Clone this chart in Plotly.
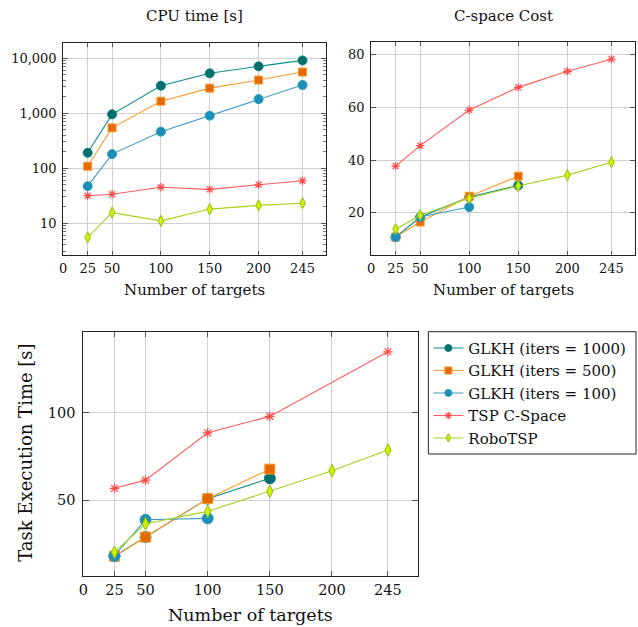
import plotly.graph_objects as go

# ---- data ----
targets = [25, 50, 100, 150, 200, 245]
targets_short = [25, 50, 100, 150]
targets_glkh100 = [25, 50, 100]
targets_tsp_exec = [25, 50, 100, 150, 245]
x_tick_vals = [0, 25, 50, 100, 150, 200, 245]

series_names = ["GLKH (iters = 1000)", "GLKH (iters = 500)", "GLKH (iters = 100)",
                "TSP C-Space", "RoboTSP"]

# CPU time [s]
cpu_glkh1000 = [190, 950, 3150, 5300, 7100, 9100]
cpu_glkh500 = [108, 540, 1650, 2850, 4000, 5600]
cpu_glkh100 = [47, 180, 460, 900, 1800, 3250]
cpu_tsp = [31.5, 33.5, 45, 41, 50, 59]
cpu_robo = [5.5, 15.5, 11, 18, 21, 23]

# C-space cost
cs_glkh1000 = [10.8, 18.3, 26.0, 30.4]
cs_glkh500 = [10.8, 16.5, 26.3, 33.9]
cs_glkh100 = [10.8, 18.4, 22.2]
cs_tsp = [37.7, 45.5, 59.0, 67.6, 73.7, 78.3]
cs_robo = [13.8, 19.1, 25.5, 30.2, 34.3, 39.2]

# Task execution time [s]
te_glkh1000 = [17.8, 28.8, 50.8, 62.4]
te_glkh500 = [17.8, 28.8, 50.8, 67.7]
te_glkh100 = [18.1, 38.7, 39.5]
te_tsp = [56.7, 61.4, 88.5, 97.9, 134.9]
te_robo = [20.1, 36.4, 43.5, 55.0, 66.8, 78.6]

cpu_tick_vals = [10, 100, 1000, 10000]
cpu_tick_text = ["10", "100", "1,000", "10,000"]
cs_tick_vals = [20, 40, 60, 80]
te_tick_vals = [50, 100]

FONT = "DejaVu Serif"
W, H = 638, 627

styles = [
    dict(line=dict(color="#138c8c", width=1.1),
         marker=dict(symbol="circle", color="#006e6c", line=dict(color="#0a7f7d", width=1))),
    dict(line=dict(color="#ff9a2e", width=1.1),
         marker=dict(symbol="square", color="#e06a00", line=dict(color="#ff9a2e", width=1))),
    dict(line=dict(color="#3e9cc2", width=1.1),
         marker=dict(symbol="circle", color="#1a90b8", line=dict(color="#2a96bd", width=1))),
    dict(line=dict(color="#ff5c5c", width=1.1),
         marker=dict(symbol="asterisk", color="#ff4a4a", line=dict(color="#ff4a4a", width=1.2))),
    dict(line=dict(color="#a2d21e", width=1.1),
         marker=dict(symbol="diamond-tall", color="#d2f000", line=dict(color="#8fc010", width=1))),
]
marker_sizes_small = [9, 8, 9, 7, 8]
marker_sizes_big = [11, 10, 11, 8, 9]
marker_sizes_legend = [7, 7, 7, 6, 6]

fig = go.Figure()


def add_series(xs_list, ys_list, xa, ya, sizes):
    for i, (xs, ys) in enumerate(zip(xs_list, ys_list)):
        st = styles[i]
        mk = dict(st["marker"])
        mk["size"] = sizes[i]
        fig.add_trace(go.Scatter(
            x=xs, y=ys, mode="lines+markers", name=series_names[i],
            line=st["line"], marker=mk, xaxis=xa, yaxis=ya,
            showlegend=False, cliponaxis=False))


add_series([targets] * 5,
           [cpu_glkh1000, cpu_glkh500, cpu_glkh100, cpu_tsp, cpu_robo],
           "x", "y", marker_sizes_small)
add_series([targets_short, targets_short, targets_glkh100, targets, targets],
           [cs_glkh1000, cs_glkh500, cs_glkh100, cs_tsp, cs_robo],
           "x2", "y2", marker_sizes_small)
add_series([targets_short, targets_short, targets_glkh100, targets_tsp_exec, targets],
           [te_glkh1000, te_glkh500, te_glkh100, te_tsp, te_robo],
           "x3", "y3", marker_sizes_big)

# legend entries with compact markers
for i, name in enumerate(series_names):
    st = styles[i]
    mk = dict(st["marker"])
    mk["size"] = marker_sizes_legend[i]
    fig.add_trace(go.Scatter(x=[None], y=[None], mode="lines+markers", name=name,
                             line=st["line"], marker=mk, xaxis="x3", yaxis="y3",
                             showlegend=True))


def px_x(a, b):
    return [a / W, b / W]


def px_y(top, bottom):
    return [1 - bottom / H, 1 - top / H]


axis_common = dict(showline=True, linecolor="#222", linewidth=1, mirror="allticks",
                   ticks="inside", tickcolor="#555", tickwidth=1,
                   showgrid=True, gridcolor="#d0d0d0", gridwidth=1, zeroline=False)


def xaxis(domain, anchor, size, ticklen, standoff):
    return dict(axis_common, domain=domain, anchor=anchor, range=[0, 269],
                tickmode="array", tickvals=x_tick_vals, ticklen=ticklen,
                tickfont=dict(family=FONT, size=size, color="#111"),
                ticklabelstandoff=standoff)


layout = dict(
    width=W, height=H, margin=dict(l=0, r=0, t=0, b=0),
    paper_bgcolor="white", plot_bgcolor="white",
    font=dict(family=FONT, color="#111"),
    xaxis=xaxis(px_x(58.7, 323.5), "y", 13, 4, 1),
    yaxis=dict(axis_common, domain=px_y(42.5, 255), anchor="x", type="log",
               range=[0.42, 4.285], tickmode="array", tickvals=cpu_tick_vals,
               ticktext=cpu_tick_text, ticklen=5,
               tickfont=dict(family=FONT, size=13, color="#111"), ticklabelstandoff=3,
               minor=dict(ticks="inside", ticklen=3, tickcolor="#777", showgrid=False,
                          tickmode="array",
                          tickvals=[m * 10 ** e for e in range(0, 5) for m in range(2, 10)])),
    xaxis2=xaxis(px_x(369, 635), "y2", 13, 4, 1),
    yaxis2=dict(axis_common, domain=px_y(41.5, 255), anchor="x2", range=[4, 85],
                tickmode="array", tickvals=cs_tick_vals, ticklen=5,
                tickfont=dict(family=FONT, size=13, color="#111"), ticklabelstandoff=3),
    xaxis3=xaxis(px_x(79, 416), "y3", 14.5, 5, 1),
    yaxis3=dict(axis_common, domain=px_y(331.7, 576), anchor="x3", range=[6.5, 146.4],
                tickmode="array", tickvals=te_tick_vals, ticklen=6,
                tickfont=dict(family=FONT, size=14.5, color="#111"), ticklabelstandoff=4),
    legend=dict(x=426.7 / W, y=1 - 331.7 / H, xanchor="left", yanchor="top",
                borderwidth=0, bgcolor="rgba(0,0,0,0)",
                font=dict(family=FONT, size=15, color="#111"),
                itemwidth=30, tracegroupgap=0),
    showlegend=True,
)
fig.update_layout(**layout)

# legend frame
fig.add_shape(type="rect", xref="paper", yref="paper",
              x0=426.7 / W, x1=636 / W, y0=1 - 454 / H, y1=1 - 331.7 / H,
              line=dict(color="#222", width=1), fillcolor="rgba(0,0,0,0)", layer="below")


def label(text, x, y, size, angle=0):
    fig.add_annotation(text=text, x=x / W, y=1 - y / H, xref="paper", yref="paper",
                       showarrow=False, textangle=angle, xanchor="center", yanchor="middle",
                       font=dict(family=FONT, size=size, color="#111"))


label("CPU time [s]", 191, 15.5, 15)
label("C-space Cost", 502, 15.5, 15)
label("Number of targets", 191, 289.5, 15)
label("Number of targets", 502.5, 289.5, 15)
label("Number of targets", 247.5, 615, 17.5)
label("Task Execution Time [s]", 20, 453, 18, angle=-90)

fig.write_html("out.html")
